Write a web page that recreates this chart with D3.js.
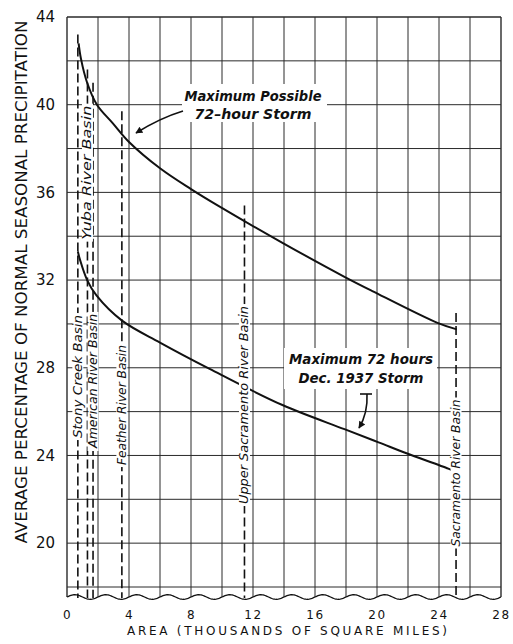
<!DOCTYPE html>
<html>
<head>
<meta charset="utf-8">
<script src="https://cdn.jsdelivr.net/npm/d3@7"></script>
<style>
  html, body { margin: 0; padding: 0; background: #fff; }
  svg { display: block; }
</style>
</head>
<body>
<svg id="chart" width="513" height="644"></svg>
<script>
// ---------------- DATA ----------------
const xTicks = [0, 4, 8, 12, 16, 20, 24, 28];
const yTicks = [20, 24, 28, 32, 36, 40, 44];

// Maximum Possible 72-hour Storm (area in 1000 sq mi, % of normal seasonal precip)
const possibleArea = [0.75, 0.9, 1.3, 1.93, 2.96, 4.0, 6.0, 8.0, 9.85, 13.9, 17.9, 19.7, 23.9, 25.15];
const possiblePct  = [42.8, 42.1, 41.0, 40.0, 39.15, 38.3, 37.1, 36.15, 35.35, 33.7, 32.15, 31.5, 30.05, 29.75];

// Maximum 72 hours Dec. 1937 Storm
const dec1937Area = [0.7, 0.85, 1.3, 1.9, 3.55, 6.0, 9.2, 13.9, 17.9, 20.1, 21.9, 24.6, 24.9];
const dec1937Pct  = [33.3, 32.9, 32.0, 31.3, 30.15, 29.15, 27.95, 26.3, 25.2, 24.6, 24.1, 23.4, 23.3];

// Basins (area, top of dashed line in %)
const basinNames = ["Stony Creek Basin", "Yuba River Basin", "American River Basin",
                    "Feather River Basin", "Upper Sacramento River Basin", "Sacramento River Basin"];
const basinArea  = [0.7, 1.32, 1.68, 3.54, 11.45, 25.1];
const basinTop   = [43.2, 41.6, 41.0, 39.7, 35.4, 30.5];

// ---------------- LAYOUT ----------------
const basinLabelPct = [27.6, 36.9, 27.4, 26.3, 26.3, 23.2];
const basinLabelLen = [123, 134, 134, 120, 198, 147];

const svg = d3.select("#chart");
const x = d3.scaleLinear().domain([0, 28]).range([67, 501]);
const y = d3.scaleLinear().domain([18, 44]).range([587, 17]);
const bottomY = 597;
const ink = "#111";

// grid
const g = svg.append("g");
const vGrid = d3.range(0, 28.001, 2);
const hGrid = d3.range(18, 44.001, 2);
g.selectAll(".vg").data(vGrid).join("line")
  .attr("x1", d => x(d)).attr("x2", d => x(d))
  .attr("y1", y(44)).attr("y2", bottomY)
  .attr("stroke", "#2a2a2a")
  .attr("stroke-width", d => (d === 0 || d === 28) ? 1.4 : 1);
g.selectAll(".hg").data(hGrid).join("line")
  .attr("x1", x(0)).attr("x2", x(28))
  .attr("y1", d => y(d)).attr("y2", d => y(d))
  .attr("stroke", "#2a2a2a")
  .attr("stroke-width", d => d === 44 ? 1.4 : 1);

// wavy break line at bottom
const wave = d3.range(x(0), x(28) + 0.01, 1).map(px => [px, bottomY - 2.3 * Math.sin((px - x(0)) / (x(2) - x(0)) * 2 * Math.PI)]);
g.append("path").attr("d", d3.line()(wave)).attr("fill", "none")
  .attr("stroke", ink).attr("stroke-width", 1.3);

// basin dashed lines
g.selectAll(".basin").data(basinArea).join("line")
  .attr("x1", d => x(d)).attr("x2", d => x(d))
  .attr("y1", (d, i) => y(basinTop[i])).attr("y2", bottomY + 1)
  .attr("stroke", ink).attr("stroke-width", 1.6)
  .attr("stroke-dasharray", "9,4");

// curves
const line = d3.line().x(d => x(d[0])).y(d => y(d[1])).curve(d3.curveCatmullRom.alpha(0.5));
svg.append("path").attr("d", line(possibleArea.map((a, i) => [a, possiblePct[i]])))
  .attr("fill", "none").attr("stroke", ink).attr("stroke-width", 2);
svg.append("path").attr("d", line(dec1937Area.map((a, i) => [a, dec1937Pct[i]])))
  .attr("fill", "none").attr("stroke", ink).attr("stroke-width", 2);

// basin labels
basinNames.forEach((name, i) => {
  const lg = svg.append("g")
    .attr("transform", `translate(${x(basinArea[i])},${y(basinLabelPct[i])}) rotate(-90)`);
  const rect = lg.append("rect").attr("fill", "#fff");
  const t = lg.append("text").text(name)
    .attr("text-anchor", "middle").attr("dominant-baseline", "central")
    .attr("font-family", "DejaVu Sans").attr("font-style", "italic")
    .attr("font-size", 11.5).attr("fill", ink)
    .attr("textLength", basinLabelLen[i]).attr("lengthAdjust", "spacingAndGlyphs");
  const b = t.node().getBBox();
  rect.attr("x", b.x - 2).attr("y", b.y + 1.5).attr("width", b.width + 4).attr("height", b.height - 3);
});

// annotation boxes
function annot(lines, cx, ys, lens, box) {
  svg.append("rect").attr("x", box[0]).attr("y", box[1])
    .attr("width", box[2] - box[0]).attr("height", box[3] - box[1]).attr("fill", "#fff");
  lines.forEach((s, i) => {
    svg.append("text").text(s).attr("x", cx).attr("y", ys[i])
      .attr("text-anchor", "middle")
      .attr("font-family", "DejaVu Sans").attr("font-style", "italic").attr("font-weight", "bold")
      .attr("font-size", 13.5).attr("fill", ink)
      .attr("textLength", lens[i]).attr("lengthAdjust", "spacingAndGlyphs");
  });
}
annot(["Maximum Possible", "72\u2013hour Storm"], 253, [101, 119], [137, 117], [182, 84, 327, 122]);
annot(["Maximum 72 hours", "Dec. 1937 Storm"], 361, [364, 383], [144, 125], [284, 348, 437, 389]);

// arrows
const defs = svg.append("defs");
defs.append("marker").attr("id", "ah").attr("viewBox", "0 0 10 10")
  .attr("refX", 9).attr("refY", 5).attr("markerWidth", 9).attr("markerHeight", 7)
  .attr("markerUnits", "userSpaceOnUse").attr("orient", "auto")
  .append("path").attr("d", "M0,0 L10,5 L0,10 Z").attr("fill", ink);
svg.append("path").attr("d", "M183,111 Q160,118 136,133")
  .attr("fill", "none").attr("stroke", ink).attr("stroke-width", 1.6).attr("marker-end", "url(#ah)");
svg.append("line").attr("x1", 360).attr("x2", 372).attr("y1", 394).attr("y2", 394)
  .attr("stroke", ink).attr("stroke-width", 1.6);
svg.append("path").attr("d", "M367,394 Q368,413 359,428")
  .attr("fill", "none").attr("stroke", ink).attr("stroke-width", 1.6).attr("marker-end", "url(#ah)");

// axes (labels only)
const yAxis = svg.append("g").attr("transform", `translate(${x(0)},0)`)
  .call(d3.axisLeft(y).tickValues(yTicks).tickSize(0).tickPadding(12));
yAxis.select(".domain").remove();
yAxis.selectAll("text").attr("font-family", "DejaVu Sans").attr("font-size", 15).attr("fill", ink);

const xAxis = svg.append("g").attr("transform", `translate(0,600)`)
  .call(d3.axisBottom(x).tickValues(xTicks).tickSize(0).tickPadding(10));
xAxis.select(".domain").remove();
xAxis.selectAll("text").attr("font-family", "DejaVu Sans").attr("font-size", 12)
  .attr("letter-spacing", "1.5px").attr("fill", ink);

// titles
svg.append("text").text("AVERAGE PERCENTAGE OF NORMAL SEASONAL PRECIPITATION")
  .attr("transform", "translate(27,282) rotate(-90)").attr("text-anchor", "middle")
  .attr("font-family", "DejaVu Sans").attr("font-size", 15).attr("fill", ink)
  .attr("textLength", 523).attr("lengthAdjust", "spacingAndGlyphs");
svg.append("text").text("AREA (THOUSANDS OF SQUARE MILES)")
  .attr("x", 287).attr("y", 635).attr("text-anchor", "middle")
  .attr("font-family", "DejaVu Sans").attr("font-size", 12).attr("fill", ink)
  .attr("textLength", 320).attr("lengthAdjust", "spacing");
</script>
</body>
</html>
